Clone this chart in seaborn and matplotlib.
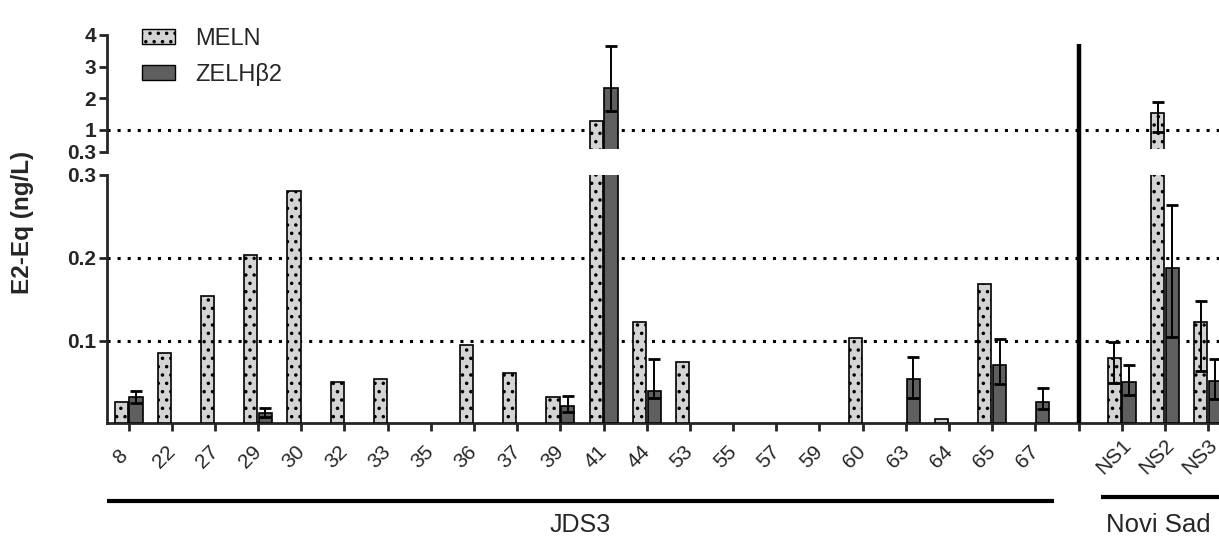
import matplotlib
matplotlib.use("Agg")
import matplotlib.pyplot as plt
import matplotlib.transforms as mtrans
import numpy as np
import pandas as pd
import seaborn as sns
from matplotlib.patches import Patch

nan = np.nan

# sampling sites (JDS3 river stations + Novi Sad)
jds_sites = ["8", "22", "27", "29", "30", "32", "33", "35", "36", "37", "39",
             "41", "44", "53", "55", "57", "59", "60", "63", "64", "65", "67"]
ns_sites = ["NS1", "NS2", "NS3"]
order = jds_sites + [""] + ns_sites

# E2-Eq (ng/L)
meln = [0.026, 0.0853, 0.1537, 0.2033, 0.2806, 0.0495, 0.0539, nan, 0.0942, 0.0611, 0.0314,
        1.26, 0.122, 0.0744, nan, nan, nan, 0.103, nan, 0.0048, 0.1682, nan,
        0.0792, 1.53, 0.122]
meln_err_up = [nan] * 22 + [0.0193, 0.36, 0.0257]
meln_err_lo = [nan] * 22 + [0.030, 0.62, 0.0588]

zelh = [0.0314, nan, nan, 0.0124, nan, nan, nan, nan, nan, nan, 0.0209,
        2.32, 0.039, nan, nan, nan, nan, nan, 0.0531, nan, 0.0708, 0.0261,
        0.0499, 0.188, 0.0514]
zelh_err_up = [0.008, nan, nan, 0.0057, nan, nan, nan, nan, nan, nan, 0.0124,
               1.33, 0.039, nan, nan, nan, nan, nan, 0.0266, nan, 0.0314, 0.0162,
               0.0205, 0.0757, 0.0263]
zelh_err_lo = [0.0072, nan, nan, 0.0045, nan, nan, nan, nan, nan, nan, 0.0077,
               0.72, 0.0088, nan, nan, nan, nan, nan, 0.0222, nan, 0.023, 0.0085,
               0.0157, 0.0841, 0.0221]

series = ["MELN", "ZELHβ2"]
colors = {"MELN": "#d4d4d4", "ZELHβ2": "#5f5f5f"}

all_sites = jds_sites + ns_sites
df = pd.DataFrame({
    "site": all_sites * 2,
    "series": [series[0]] * len(all_sites) + [series[1]] * len(all_sites),
    "value": meln + zelh,
}).dropna()

sns.set_style("ticks")
plt.rcParams["font.family"] = ["Liberation Sans", "DejaVu Sans"]
plt.rcParams["hatch.linewidth"] = 1.3

W, H = 1219, 543
fig = plt.figure(figsize=(W / 100, H / 100), dpi=100)
left = 107 / W
width = 1 - left + 0.001
ax_up = fig.add_axes([left, (H - 151.7) / H, width, (151.7 - 35) / H])
ax_lo = fig.add_axes([left, (H - 423.3) / H, width, (423.3 - 175) / H])

xpos = np.array([order.index(s) for s in all_sites])
off = 0.17


def draw(ax, clip=None):
    sns.barplot(data=df, x="site", y="value", hue="series", order=order,
                hue_order=series, palette=colors, width=0.68, gap=0.1,
                errorbar=None, edgecolor="black", linewidth=1.2,
                legend=False, ax=ax, zorder=3)
    for p in ax.patches:
        if np.allclose(p.get_facecolor()[:3], matplotlib.colors.to_rgb(colors["MELN"])):
            p.set_hatch("..")
    ekw = dict(fmt="none", ecolor="black", elinewidth=1.4, capsize=4.5,
               capthick=2, zorder=4)
    e1 = ax.errorbar(xpos - off, meln, yerr=[meln_err_lo, meln_err_up], **ekw)
    e2 = ax.errorbar(xpos + off, zelh, yerr=[zelh_err_lo, zelh_err_up], **ekw)
    if clip is not None:
        for p in ax.patches:
            p.set_clip_box(clip)
        for e in (e1, e2):
            for a in e.lines[1]:
                a.set_clip_box(clip)
            for a in e.lines[2]:
                a.set_clip_box(clip)
    ax.set_xlim(-0.5, 25.28)
    ax.set_xlabel("")
    ax.set_ylabel("")
    for s in ["top", "right"]:
        ax.spines[s].set_visible(False)
    ax.spines["left"].set_linewidth(2)
    ax.tick_params(axis="y", length=6, width=2, labelsize=15, pad=2)


dot = dict(color="black", lw=2.2, dashes=(1, 2.3), zorder=1)

# upper part of the broken axis, clipped a little above its bottom edge
up_clip = mtrans.TransformedBbox(mtrans.Bbox([[0, 0.025], [1, 1]]), ax_up.transAxes)
draw(ax_up, up_clip)
ax_up.set_ylim(0.3, 4)
ax_up.set_yticks([0.3, 1, 2, 3, 4], ["0.3", "1", "2", "3", "4"], fontweight="bold")
ax_up.spines["bottom"].set_visible(False)
ax_up.set_xticks([])
ax_up.axhline(1, **dot)

draw(ax_lo)
ax_lo.set_ylim(0, 0.3)
ax_lo.set_yticks([0.1, 0.2, 0.3], ["0.1", "0.2", "0.3"], fontweight="bold")
ax_lo.spines["bottom"].set_linewidth(2)
ax_lo.set_xticks(range(len(order)), order, rotation=45, ha="center", va="center",
                 rotation_mode="anchor", fontsize=15)
ax_lo.tick_params(axis="x", length=6, width=2, pad=18)
shift = mtrans.ScaledTranslation(-8 / 100, 0, fig.dpi_scale_trans)
for t in ax_lo.get_xticklabels():
    t.set_transform(t.get_transform() + shift)
ax_lo.axhline(0.1, **dot)
ax_lo.axhline(0.2, **dot)

# separator between JDS3 and Novi Sad
xt = ax_lo.get_xaxis_transform()
ax_lo.plot([22, 22], [0, 1.528], color="black", lw=3.2, transform=xt,
           clip_on=False, zorder=6, solid_capstyle="butt")

# group brackets under the labels
ax_lo.plot([-0.5, 21.43], [-0.313, -0.313], color="black", lw=3, transform=xt,
           clip_on=False, solid_capstyle="butt")
ax_lo.plot([22.51, 25.4], [-0.298, -0.298], color="black", lw=3, transform=xt,
           clip_on=False, solid_capstyle="butt")
ax_lo.text(10.45, -0.41, "JDS3", transform=xt, ha="center", va="center", fontsize=18)
ax_lo.text(23.85, -0.41, "Novi Sad", transform=xt, ha="center", va="center", fontsize=18.5)

fig.text(22 / W, 1 - 222 / H, "E2-Eq (ng/L)", rotation=90, ha="center",
         va="center", fontsize=17.5, fontweight="bold")

handles = [Patch(facecolor=colors["MELN"], edgecolor="black", hatch="..", label="MELN"),
           Patch(facecolor=colors["ZELHβ2"], edgecolor="black", label="ZELHβ2")]
fig.legend(handles=handles, loc="upper left", bbox_to_anchor=(142 / W, 1 - 28 / H),
           frameon=False, fontsize=17, borderpad=0, borderaxespad=0,
           handlelength=1.4, handleheight=0.6, handletextpad=0.85, labelspacing=0.55)

fig.savefig("out.png", dpi=100)
